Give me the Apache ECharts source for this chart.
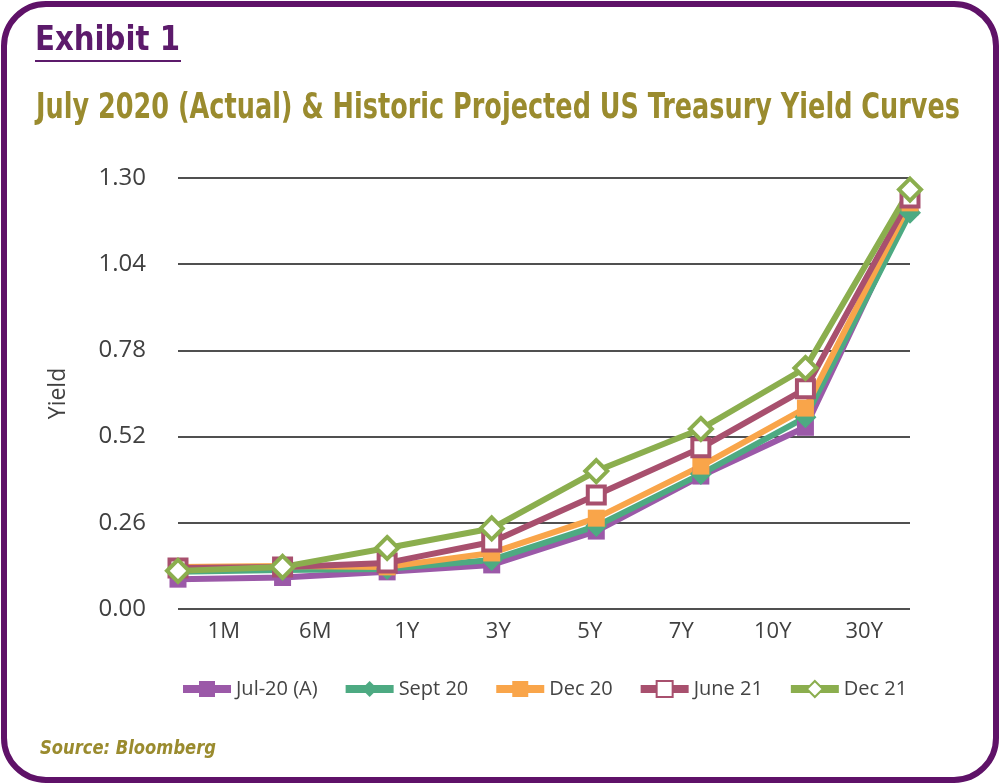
<!DOCTYPE html>
<html>
<head>
<meta charset="utf-8">
<script src="https://cdn.jsdelivr.net/npm/echarts@6/dist/echarts.min.js"></script>
<style>
  html, body { margin: 0; padding: 0; background: #fff; }
  #main { width: 1000px; height: 784px; }
</style>
</head>
<body>
<div id="main"></div>
<script>
var chartDom = document.getElementById('main');
var myChart = echarts.init(chartDom);
var option;

// maturities on the x axis
var tenors = ['1M', '6M', '1Y', '3Y', '5Y', '7Y', '10Y', '30Y'];

// yields
var jul20 = [0.09, 0.095, 0.112, 0.133, 0.235, 0.401, 0.548, 1.213];
var sept20 = [0.112, 0.118, 0.121, 0.148, 0.25, 0.407, 0.578, 1.195];
var dec20 = [0.127, 0.13, 0.127, 0.169, 0.274, 0.431, 0.606, 1.225];
var june21 = [0.124, 0.127, 0.139, 0.202, 0.344, 0.486, 0.664, 1.24];
var dec21 = [0.115, 0.127, 0.184, 0.243, 0.416, 0.543, 0.727, 1.265];

var yTicks = { min: 0, max: 1.3, step: 0.26 };

var condensed = '"DejaVu Sans Condensed", "DejaVu Sans", sans-serif';

// squeeze a text horizontally so it spans the wanted width
var ctx = document.createElement('canvas').getContext('2d');
function fitText(text, font, width, left, top, fill) {
    ctx.font = font;
    var w = ctx.measureText(text).width;
    return {
        type: 'text',
        x: left, y: top,
        scaleX: width / w,
        style: { text: text, font: font, fill: fill }
    };
}

function line(name, data, color, symbol, hollow) {
    return {
        name: name,
        type: 'line',
        data: data,
        xAxisIndex: 0,
        symbol: symbol,
        symbolSize: symbol === 'diamond' ? 22 : 17,
        lineStyle: { color: color, width: 6 },
        itemStyle: {
            color: hollow ? '#fff' : color,
            borderColor: color,
            borderWidth: hollow ? 4 : 0
        },
        emphasis: { disabled: true }
    };
}

option = {
    animation: false,
    graphic: [{
        type: 'rect',
        shape: { x: 4, y: 4, width: 992, height: 776, r: 42 },
        style: { fill: 'none', stroke: '#5f1268', lineWidth: 6 }
    },
    fitText('Exhibit 1', 'bold 34px ' + condensed, 145, 35, 24, '#5c1a6b'),
    {
        type: 'line',
        shape: { x1: 35, y1: 61, x2: 181, y2: 61 },
        style: { stroke: '#5c1a6b', lineWidth: 2 }
    },
    fitText('July 2020 (Actual) & Historic Projected US Treasury Yield Curves',
        'bold 36px ' + condensed, 924, 36, 91, '#9a8b2e'),
    fitText('Source: Bloomberg', 'italic bold 20px ' + condensed, 176, 40, 739, '#9a8b2e')
    ],
    legend: {
        bottom: 80,
        left: 174,
        itemWidth: 48,
        itemHeight: 20,
        itemGap: 24,
        lineStyle: { width: 8 },
        textStyle: { fontSize: 20, color: '#444', fontFamily: '"Open Sans", sans-serif' },
        data: ['Jul-20 (A)', 'Sept 20', 'Dec 20', 'June 21', 'Dec 21']
    },
    grid: { left: 178, right: 90, top: 178, bottom: 175 },
    xAxis: [{
        type: 'category',
        data: tenors,
        boundaryGap: false,
        axisLine: { show: false },
        axisTick: { show: false },
        axisLabel: { show: false }
    }, {
        type: 'category',
        data: tenors,
        position: 'bottom',
        boundaryGap: true,
        axisLine: { show: false },
        axisTick: { show: false },
        axisLabel: { fontSize: 22, color: '#404040', margin: 12, fontFamily: '"Open Sans", sans-serif' }
    }],
    yAxis: {
        type: 'value',
        min: yTicks.min,
        max: yTicks.max,
        interval: yTicks.step,
        name: 'Yield',
        nameLocation: 'middle',
        nameGap: 108,
        nameTextStyle: { fontSize: 23, color: '#404040', fontFamily: '"Open Sans", sans-serif' },
        axisLine: { show: false },
        axisTick: { show: false },
        axisLabel: {
            fontSize: 24, color: '#404040', margin: 32,
            fontFamily: '"Open Sans", sans-serif',
            formatter: function (v) { return v.toFixed(2); }
        },
        splitLine: { lineStyle: { color: '#505050', width: 2 } }
    },
    series: [
        line('Jul-20 (A)', jul20, '#9b59a8', 'rect', false),
        line('Sept 20', sept20, '#4daa82', 'diamond', false),
        line('Dec 20', dec20, '#f9a54a', 'rect', false),
        line('June 21', june21, '#a8506e', 'rect', true),
        line('Dec 21', dec21, '#8bae4e', 'diamond', true)
    ]
};

option && myChart.setOption(option);
</script>
</body>
</html>
